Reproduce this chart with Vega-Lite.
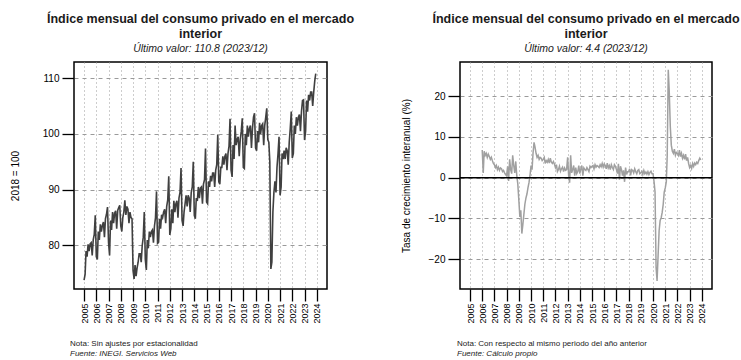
{
  "$schema": "https://vega.github.io/schema/vega-lite/v6.json",
  "background": "white",
  "padding": {"left": 9, "top": 12, "right": 4, "bottom": 0},
  "config": {
    "font": "Liberation Sans",
    "view": {"stroke": "black", "strokeWidth": 1.5},
    "concat": {"spacing": 45},
    "axis": {"domain": false, "tickColor": "black", "tickWidth": 1.3, "tickSize": 12, "labelColor": "black", "titleColor": "black", "labelFont": "Liberation Sans", "titleFont": "Liberation Sans", "titleFontWeight": "normal", "gridColor": "#9a9a9a", "gridWidth": 1, "labelFontSize": 10, "titleFontSize": 10, "labelOverlap": false}
  },
  "datasets": {
    "idx": [
      {"d":"2005-01-01","v":73.8},{"d":"2005-02-01","v":74.8},{"d":"2005-03-01","v":79.0},{"d":"2005-04-01","v":78.0},{"d":"2005-05-01","v":80.2},{"d":"2005-06-01","v":79.0},{"d":"2005-07-01","v":80.3},{"d":"2005-08-01","v":80.5},{"d":"2005-09-01","v":78.2},{"d":"2005-10-01","v":81.0},{"d":"2005-11-01","v":82.0},{"d":"2005-12-01","v":85.4},
      {"d":"2006-01-01","v":78.0},{"d":"2006-02-01","v":77.5},{"d":"2006-03-01","v":82.5},{"d":"2006-04-01","v":81.0},{"d":"2006-05-01","v":83.8},{"d":"2006-06-01","v":82.5},{"d":"2006-07-01","v":83.6},{"d":"2006-08-01","v":84.2},{"d":"2006-09-01","v":81.5},{"d":"2006-10-01","v":84.8},{"d":"2006-11-01","v":85.6},{"d":"2006-12-01","v":86.9},
      {"d":"2007-01-01","v":80.5},{"d":"2007-02-01","v":78.2},{"d":"2007-03-01","v":84.5},{"d":"2007-04-01","v":82.8},{"d":"2007-05-01","v":86.0},{"d":"2007-06-01","v":84.0},{"d":"2007-07-01","v":85.8},{"d":"2007-08-01","v":86.2},{"d":"2007-09-01","v":83.0},{"d":"2007-10-01","v":86.3},{"d":"2007-11-01","v":86.8},{"d":"2007-12-01","v":87.2},
      {"d":"2008-01-01","v":83.5},{"d":"2008-02-01","v":82.5},{"d":"2008-03-01","v":85.0},{"d":"2008-04-01","v":86.0},{"d":"2008-05-01","v":88.1},{"d":"2008-06-01","v":85.5},{"d":"2008-07-01","v":87.0},{"d":"2008-08-01","v":86.5},{"d":"2008-09-01","v":84.0},{"d":"2008-10-01","v":86.0},{"d":"2008-11-01","v":85.0},{"d":"2008-12-01","v":84.8},
      {"d":"2009-01-01","v":75.5},{"d":"2009-02-01","v":74.0},{"d":"2009-03-01","v":76.5},{"d":"2009-04-01","v":74.5},{"d":"2009-05-01","v":76.0},{"d":"2009-06-01","v":77.0},{"d":"2009-07-01","v":78.5},{"d":"2009-08-01","v":78.5},{"d":"2009-09-01","v":77.0},{"d":"2009-10-01","v":80.0},{"d":"2009-11-01","v":81.5},{"d":"2009-12-01","v":86.0},
      {"d":"2010-01-01","v":77.5},{"d":"2010-02-01","v":75.6},{"d":"2010-03-01","v":81.0},{"d":"2010-04-01","v":79.5},{"d":"2010-05-01","v":82.5},{"d":"2010-06-01","v":81.5},{"d":"2010-07-01","v":82.5},{"d":"2010-08-01","v":82.8},{"d":"2010-09-01","v":80.5},{"d":"2010-10-01","v":83.5},{"d":"2010-11-01","v":85.0},{"d":"2010-12-01","v":89.7},
      {"d":"2011-01-01","v":80.4},{"d":"2011-02-01","v":80.6},{"d":"2011-03-01","v":84.8},{"d":"2011-04-01","v":83.0},{"d":"2011-05-01","v":85.5},{"d":"2011-06-01","v":85.0},{"d":"2011-07-01","v":86.0},{"d":"2011-08-01","v":86.5},{"d":"2011-09-01","v":84.0},{"d":"2011-10-01","v":87.0},{"d":"2011-11-01","v":88.2},{"d":"2011-12-01","v":92.4},
      {"d":"2012-01-01","v":81.9},{"d":"2012-02-01","v":83.0},{"d":"2012-03-01","v":86.5},{"d":"2012-04-01","v":84.0},{"d":"2012-05-01","v":88.0},{"d":"2012-06-01","v":86.0},{"d":"2012-07-01","v":87.5},{"d":"2012-08-01","v":88.0},{"d":"2012-09-01","v":85.0},{"d":"2012-10-01","v":88.5},{"d":"2012-11-01","v":89.5},{"d":"2012-12-01","v":93.9},
      {"d":"2013-01-01","v":84.5},{"d":"2013-02-01","v":83.5},{"d":"2013-03-01","v":86.0},{"d":"2013-04-01","v":87.5},{"d":"2013-05-01","v":89.0},{"d":"2013-06-01","v":87.0},{"d":"2013-07-01","v":89.0},{"d":"2013-08-01","v":88.5},{"d":"2013-09-01","v":86.0},{"d":"2013-10-01","v":89.5},{"d":"2013-11-01","v":90.5},{"d":"2013-12-01","v":95.0},
      {"d":"2014-01-01","v":85.4},{"d":"2014-02-01","v":84.8},{"d":"2014-03-01","v":88.5},{"d":"2014-04-01","v":88.0},{"d":"2014-05-01","v":90.5},{"d":"2014-06-01","v":88.5},{"d":"2014-07-01","v":90.3},{"d":"2014-08-01","v":90.5},{"d":"2014-09-01","v":87.5},{"d":"2014-10-01","v":91.0},{"d":"2014-11-01","v":91.8},{"d":"2014-12-01","v":97.4},
      {"d":"2015-01-01","v":87.8},{"d":"2015-02-01","v":87.5},{"d":"2015-03-01","v":91.5},{"d":"2015-04-01","v":90.5},{"d":"2015-05-01","v":92.5},{"d":"2015-06-01","v":91.5},{"d":"2015-07-01","v":93.0},{"d":"2015-08-01","v":93.0},{"d":"2015-09-01","v":90.5},{"d":"2015-10-01","v":93.5},{"d":"2015-11-01","v":94.5},{"d":"2015-12-01","v":99.9},
      {"d":"2016-01-01","v":91.4},{"d":"2016-02-01","v":91.0},{"d":"2016-03-01","v":94.0},{"d":"2016-04-01","v":94.0},{"d":"2016-05-01","v":96.0},{"d":"2016-06-01","v":94.5},{"d":"2016-07-01","v":96.0},{"d":"2016-08-01","v":96.5},{"d":"2016-09-01","v":93.5},{"d":"2016-10-01","v":96.5},{"d":"2016-11-01","v":97.8},{"d":"2016-12-01","v":102.7},
      {"d":"2017-01-01","v":93.5},{"d":"2017-02-01","v":92.3},{"d":"2017-03-01","v":98.0},{"d":"2017-04-01","v":95.5},{"d":"2017-05-01","v":101.5},{"d":"2017-06-01","v":98.0},{"d":"2017-07-01","v":99.0},{"d":"2017-08-01","v":99.5},{"d":"2017-09-01","v":96.0},{"d":"2017-10-01","v":99.0},{"d":"2017-11-01","v":100.5},{"d":"2017-12-01","v":102.8},
      {"d":"2018-01-01","v":94.0},{"d":"2018-02-01","v":93.8},{"d":"2018-03-01","v":100.0},{"d":"2018-04-01","v":98.0},{"d":"2018-05-01","v":101.5},{"d":"2018-06-01","v":99.5},{"d":"2018-07-01","v":101.0},{"d":"2018-08-01","v":101.5},{"d":"2018-09-01","v":97.5},{"d":"2018-10-01","v":101.0},{"d":"2018-11-01","v":103.0},{"d":"2018-12-01","v":103.7},
      {"d":"2019-01-01","v":97.5},{"d":"2019-02-01","v":97.0},{"d":"2019-03-01","v":100.5},{"d":"2019-04-01","v":98.5},{"d":"2019-05-01","v":102.0},{"d":"2019-06-01","v":100.0},{"d":"2019-07-01","v":101.5},{"d":"2019-08-01","v":101.8},{"d":"2019-09-01","v":98.0},{"d":"2019-10-01","v":101.5},{"d":"2019-11-01","v":103.0},{"d":"2019-12-01","v":104.6},
      {"d":"2020-01-01","v":99.0},{"d":"2020-02-01","v":98.5},{"d":"2020-03-01","v":95.0},{"d":"2020-04-01","v":75.8},{"d":"2020-05-01","v":77.0},{"d":"2020-06-01","v":86.0},{"d":"2020-07-01","v":89.5},{"d":"2020-08-01","v":91.5},{"d":"2020-09-01","v":89.5},{"d":"2020-10-01","v":94.0},{"d":"2020-11-01","v":96.5},{"d":"2020-12-01","v":99.5},
      {"d":"2021-01-01","v":89.0},{"d":"2021-02-01","v":90.5},{"d":"2021-03-01","v":96.5},{"d":"2021-04-01","v":95.5},{"d":"2021-05-01","v":97.0},{"d":"2021-06-01","v":95.5},{"d":"2021-07-01","v":97.5},{"d":"2021-08-01","v":97.0},{"d":"2021-09-01","v":94.5},{"d":"2021-10-01","v":98.5},{"d":"2021-11-01","v":101.0},{"d":"2021-12-01","v":104.0},
      {"d":"2022-01-01","v":95.7},{"d":"2022-02-01","v":96.5},{"d":"2022-03-01","v":101.5},{"d":"2022-04-01","v":100.0},{"d":"2022-05-01","v":103.0},{"d":"2022-06-01","v":101.5},{"d":"2022-07-01","v":103.0},{"d":"2022-08-01","v":103.5},{"d":"2022-09-01","v":100.5},{"d":"2022-10-01","v":104.0},{"d":"2022-11-01","v":106.0},{"d":"2022-12-01","v":106.1},
      {"d":"2023-01-01","v":98.9},{"d":"2023-02-01","v":100.5},{"d":"2023-03-01","v":106.0},{"d":"2023-04-01","v":104.0},{"d":"2023-05-01","v":107.0},{"d":"2023-06-01","v":106.0},{"d":"2023-07-01","v":107.5},{"d":"2023-08-01","v":107.5},{"d":"2023-09-01","v":105.0},{"d":"2023-10-01","v":107.5},{"d":"2023-11-01","v":109.5},{"d":"2023-12-01","v":110.8}
    ],
    "gr": [
      {"d":"2006-01-01","v":6.8},{"d":"2006-02-01","v":1.2},{"d":"2006-03-01","v":6.5},{"d":"2006-04-01","v":5.5},{"d":"2006-05-01","v":6.0},{"d":"2006-06-01","v":5.0},{"d":"2006-07-01","v":5.8},{"d":"2006-08-01","v":5.2},{"d":"2006-09-01","v":4.5},{"d":"2006-10-01","v":5.0},{"d":"2006-11-01","v":4.2},{"d":"2006-12-01","v":3.5},
      {"d":"2007-01-01","v":3.2},{"d":"2007-02-01","v":2.5},{"d":"2007-03-01","v":3.0},{"d":"2007-04-01","v":2.0},{"d":"2007-05-01","v":2.6},{"d":"2007-06-01","v":1.8},{"d":"2007-07-01","v":2.4},{"d":"2007-08-01","v":2.2},{"d":"2007-09-01","v":1.5},{"d":"2007-10-01","v":1.8},{"d":"2007-11-01","v":1.2},{"d":"2007-12-01","v":0.8},
      {"d":"2008-01-01","v":0.5},{"d":"2008-02-01","v":2.8},{"d":"2008-03-01","v":-0.8},{"d":"2008-04-01","v":4.5},{"d":"2008-05-01","v":2.0},{"d":"2008-06-01","v":1.0},{"d":"2008-07-01","v":5.5},{"d":"2008-08-01","v":3.0},{"d":"2008-09-01","v":1.2},{"d":"2008-10-01","v":4.0},{"d":"2008-11-01","v":0.5},{"d":"2008-12-01","v":-1.5},
      {"d":"2009-01-01","v":-5.5},{"d":"2009-02-01","v":-9.6},{"d":"2009-03-01","v":-8.0},{"d":"2009-04-01","v":-13.7},{"d":"2009-05-01","v":-11.5},{"d":"2009-06-01","v":-9.0},{"d":"2009-07-01","v":-6.5},{"d":"2009-08-01","v":-5.0},{"d":"2009-09-01","v":-4.0},{"d":"2009-10-01","v":-2.5},{"d":"2009-11-01","v":-1.2},{"d":"2009-12-01","v":0.5},
      {"d":"2010-01-01","v":3.0},{"d":"2010-02-01","v":2.0},{"d":"2010-03-01","v":5.9},{"d":"2010-04-01","v":8.7},{"d":"2010-05-01","v":7.5},{"d":"2010-06-01","v":6.0},{"d":"2010-07-01","v":5.0},{"d":"2010-08-01","v":5.5},{"d":"2010-09-01","v":4.5},{"d":"2010-10-01","v":5.0},{"d":"2010-11-01","v":4.8},{"d":"2010-12-01","v":4.2},
      {"d":"2011-01-01","v":4.5},{"d":"2011-02-01","v":5.0},{"d":"2011-03-01","v":3.5},{"d":"2011-04-01","v":4.2},{"d":"2011-05-01","v":3.8},{"d":"2011-06-01","v":4.5},{"d":"2011-07-01","v":3.6},{"d":"2011-08-01","v":4.8},{"d":"2011-09-01","v":3.8},{"d":"2011-10-01","v":3.5},{"d":"2011-11-01","v":4.0},{"d":"2011-12-01","v":3.4},
      {"d":"2012-01-01","v":2.5},{"d":"2012-02-01","v":3.2},{"d":"2012-03-01","v":1.5},{"d":"2012-04-01","v":2.0},{"d":"2012-05-01","v":2.8},{"d":"2012-06-01","v":1.6},{"d":"2012-07-01","v":2.2},{"d":"2012-08-01","v":2.6},{"d":"2012-09-01","v":1.5},{"d":"2012-10-01","v":2.4},{"d":"2012-11-01","v":1.8},{"d":"2012-12-01","v":2.0},
      {"d":"2013-01-01","v":5.0},{"d":"2013-02-01","v":0.5},{"d":"2013-03-01","v":-1.2},{"d":"2013-04-01","v":5.5},{"d":"2013-05-01","v":1.2},{"d":"2013-06-01","v":2.0},{"d":"2013-07-01","v":3.0},{"d":"2013-08-01","v":0.5},{"d":"2013-09-01","v":2.5},{"d":"2013-10-01","v":1.0},{"d":"2013-11-01","v":1.5},{"d":"2013-12-01","v":3.0},
      {"d":"2014-01-01","v":1.0},{"d":"2014-02-01","v":2.2},{"d":"2014-03-01","v":3.0},{"d":"2014-04-01","v":0.5},{"d":"2014-05-01","v":2.4},{"d":"2014-06-01","v":2.0},{"d":"2014-07-01","v":1.8},{"d":"2014-08-01","v":2.5},{"d":"2014-09-01","v":2.0},{"d":"2014-10-01","v":1.5},{"d":"2014-11-01","v":2.8},{"d":"2014-12-01","v":2.5},
      {"d":"2015-01-01","v":2.8},{"d":"2015-02-01","v":3.0},{"d":"2015-03-01","v":2.2},{"d":"2015-04-01","v":3.2},{"d":"2015-05-01","v":2.6},{"d":"2015-06-01","v":3.0},{"d":"2015-07-01","v":2.8},{"d":"2015-08-01","v":2.5},{"d":"2015-09-01","v":3.2},{"d":"2015-10-01","v":2.7},{"d":"2015-11-01","v":3.5},{"d":"2015-12-01","v":2.6},
      {"d":"2016-01-01","v":3.4},{"d":"2016-02-01","v":3.0},{"d":"2016-03-01","v":2.2},{"d":"2016-04-01","v":3.6},{"d":"2016-05-01","v":2.4},{"d":"2016-06-01","v":3.0},{"d":"2016-07-01","v":2.0},{"d":"2016-08-01","v":3.2},{"d":"2016-09-01","v":2.5},{"d":"2016-10-01","v":2.0},{"d":"2016-11-01","v":3.2},{"d":"2016-12-01","v":2.8},
      {"d":"2017-01-01","v":2.0},{"d":"2017-02-01","v":1.0},{"d":"2017-03-01","v":3.4},{"d":"2017-04-01","v":-0.5},{"d":"2017-05-01","v":2.8},{"d":"2017-06-01","v":2.0},{"d":"2017-07-01","v":0.5},{"d":"2017-08-01","v":1.8},{"d":"2017-09-01","v":-1.0},{"d":"2017-10-01","v":2.5},{"d":"2017-11-01","v":0.8},{"d":"2017-12-01","v":1.5},
      {"d":"2018-01-01","v":1.5},{"d":"2018-02-01","v":2.2},{"d":"2018-03-01","v":0.6},{"d":"2018-04-01","v":2.0},{"d":"2018-05-01","v":1.8},{"d":"2018-06-01","v":1.2},{"d":"2018-07-01","v":2.2},{"d":"2018-08-01","v":1.5},{"d":"2018-09-01","v":1.0},{"d":"2018-10-01","v":1.8},{"d":"2018-11-01","v":2.0},{"d":"2018-12-01","v":1.0},
      {"d":"2019-01-01","v":1.2},{"d":"2019-02-01","v":1.6},{"d":"2019-03-01","v":0.8},{"d":"2019-04-01","v":1.8},{"d":"2019-05-01","v":1.0},{"d":"2019-06-01","v":1.4},{"d":"2019-07-01","v":0.9},{"d":"2019-08-01","v":1.5},{"d":"2019-09-01","v":0.8},{"d":"2019-10-01","v":1.3},{"d":"2019-11-01","v":1.6},{"d":"2019-12-01","v":1.0},
      {"d":"2020-01-01","v":1.0},{"d":"2020-02-01","v":-1.0},{"d":"2020-03-01","v":-3.5},{"d":"2020-04-01","v":-22.0},{"d":"2020-05-01","v":-25.3},{"d":"2020-06-01","v":-19.0},{"d":"2020-07-01","v":-13.0},{"d":"2020-08-01","v":-10.5},{"d":"2020-09-01","v":-9.8},{"d":"2020-10-01","v":-8.5},{"d":"2020-11-01","v":-6.5},{"d":"2020-12-01","v":-3.5},
      {"d":"2021-01-01","v":-2.5},{"d":"2021-02-01","v":-1.0},{"d":"2021-03-01","v":5.5},{"d":"2021-04-01","v":26.5},{"d":"2021-05-01","v":21.0},{"d":"2021-06-01","v":12.5},{"d":"2021-07-01","v":8.0},{"d":"2021-08-01","v":6.5},{"d":"2021-09-01","v":6.0},{"d":"2021-10-01","v":7.0},{"d":"2021-11-01","v":5.5},{"d":"2021-12-01","v":6.2},
      {"d":"2022-01-01","v":6.0},{"d":"2022-02-01","v":5.5},{"d":"2022-03-01","v":6.8},{"d":"2022-04-01","v":5.2},{"d":"2022-05-01","v":6.0},{"d":"2022-06-01","v":4.8},{"d":"2022-07-01","v":5.5},{"d":"2022-08-01","v":4.5},{"d":"2022-09-01","v":5.8},{"d":"2022-10-01","v":4.2},{"d":"2022-11-01","v":5.0},{"d":"2022-12-01","v":3.5},
      {"d":"2023-01-01","v":2.5},{"d":"2023-02-01","v":3.0},{"d":"2023-03-01","v":2.3},{"d":"2023-04-01","v":3.5},{"d":"2023-05-01","v":2.8},{"d":"2023-06-01","v":3.6},{"d":"2023-07-01","v":3.2},{"d":"2023-08-01","v":3.8},{"d":"2023-09-01","v":3.5},{"d":"2023-10-01","v":4.2},{"d":"2023-11-01","v":4.8},{"d":"2023-12-01","v":4.4}
    ]
  },
  "hconcat": [
    {
      "title": {"text": "Nota: Sin ajustes por estacionalidad", "subtitle": "Fuente: INEGI. Servicios Web", "orient": "bottom", "anchor": "start", "frame": "group", "font": "Liberation Sans", "fontSize": 8, "fontWeight": "normal", "color": "#222222", "subtitleFont": "Liberation Sans", "subtitleFontSize": 8, "subtitleFontStyle": "italic", "subtitleColor": "#222222", "subtitlePadding": 2, "dx": -4, "offset": 16},
      "vconcat": [
        {
          "title": {"text": ["Índice mensual del consumo privado en el mercado", "interior"], "subtitle": "Último valor: 110.8 (2023/12)", "anchor": "middle", "frame": "group", "font": "Liberation Sans", "fontSize": 12.5, "fontWeight": "bold", "color": "#1a1a1a", "lineHeight": 15, "subtitleFont": "Liberation Sans", "subtitleFontSize": 10.5, "subtitleFontStyle": "italic", "subtitleColor": "#222222", "subtitlePadding": 3, "offset": 8},
          "width": 253,
          "height": 227,
          "data": {"name": "idx"},
          "mark": {"type": "line", "color": "#404040", "strokeWidth": 1.6},
          "encoding": {
            "x": {"field": "d", "type": "temporal", "scale": {"type": "utc", "domain": [{"year": 2004, "month": 3, "date": 7, "utc": true}, {"year": 2024, "month": 10, "date": 31, "utc": true}]}, "axis": {"title": null, "format": "%Y", "formatType": "utc", "values": [{"year": 2005, "month": 1, "date": 1, "utc": true}, {"year": 2006, "month": 1, "date": 1, "utc": true}, {"year": 2007, "month": 1, "date": 1, "utc": true}, {"year": 2008, "month": 1, "date": 1, "utc": true}, {"year": 2009, "month": 1, "date": 1, "utc": true}, {"year": 2010, "month": 1, "date": 1, "utc": true}, {"year": 2011, "month": 1, "date": 1, "utc": true}, {"year": 2012, "month": 1, "date": 1, "utc": true}, {"year": 2013, "month": 1, "date": 1, "utc": true}, {"year": 2014, "month": 1, "date": 1, "utc": true}, {"year": 2015, "month": 1, "date": 1, "utc": true}, {"year": 2016, "month": 1, "date": 1, "utc": true}, {"year": 2017, "month": 1, "date": 1, "utc": true}, {"year": 2018, "month": 1, "date": 1, "utc": true}, {"year": 2019, "month": 1, "date": 1, "utc": true}, {"year": 2020, "month": 1, "date": 1, "utc": true}, {"year": 2021, "month": 1, "date": 1, "utc": true}, {"year": 2022, "month": 1, "date": 1, "utc": true}, {"year": 2023, "month": 1, "date": 1, "utc": true}, {"year": 2024, "month": 1, "date": 1, "utc": true}], "labelAngle": 270, "labelFontSize": 9, "labelPadding": 2, "grid": true, "gridDash": [1, 3]}},
            "y": {"field": "v", "type": "quantitative", "scale": {"domain": [72.2, 112.9], "nice": false, "zero": false}, "axis": {"title": "2018 = 100", "values": [80, 90, 100, 110], "labelPadding": 3, "titlePadding": 22, "grid": true, "gridDash": [4, 4]}}
          }
        }
      ]
    },
    {
      "title": {"text": "Nota: Con respecto al mismo periodo del año anterior", "subtitle": "Fuente: Cálculo propio", "orient": "bottom", "anchor": "start", "frame": "group", "font": "Liberation Sans", "fontSize": 8, "fontWeight": "normal", "color": "#222222", "subtitleFont": "Liberation Sans", "subtitleFontSize": 8, "subtitleFontStyle": "italic", "subtitleColor": "#222222", "subtitlePadding": 2, "dx": -3, "offset": 16},
      "vconcat": [
        {
          "title": {"text": ["Índice mensual del consumo privado en el mercado", "interior"], "subtitle": "Último valor: 4.4 (2023/12)", "anchor": "middle", "frame": "group", "font": "Liberation Sans", "fontSize": 12.5, "fontWeight": "bold", "color": "#1a1a1a", "lineHeight": 15, "subtitleFont": "Liberation Sans", "subtitleFontSize": 10.5, "subtitleFontStyle": "italic", "subtitleColor": "#222222", "subtitlePadding": 3, "offset": 8},
          "width": 252,
          "height": 227,
          "layer": [
            {
              "data": {"name": "gr"},
              "mark": {"type": "line", "color": "#a0a0a0", "strokeWidth": 1.5},
              "encoding": {
                "x": {"field": "d", "type": "temporal", "scale": {"type": "utc", "domain": [{"year": 2004, "month": 3, "date": 7, "utc": true}, {"year": 2024, "month": 10, "date": 31, "utc": true}]}, "axis": {"title": null, "format": "%Y", "formatType": "utc", "values": [{"year": 2005, "month": 1, "date": 1, "utc": true}, {"year": 2006, "month": 1, "date": 1, "utc": true}, {"year": 2007, "month": 1, "date": 1, "utc": true}, {"year": 2008, "month": 1, "date": 1, "utc": true}, {"year": 2009, "month": 1, "date": 1, "utc": true}, {"year": 2010, "month": 1, "date": 1, "utc": true}, {"year": 2011, "month": 1, "date": 1, "utc": true}, {"year": 2012, "month": 1, "date": 1, "utc": true}, {"year": 2013, "month": 1, "date": 1, "utc": true}, {"year": 2014, "month": 1, "date": 1, "utc": true}, {"year": 2015, "month": 1, "date": 1, "utc": true}, {"year": 2016, "month": 1, "date": 1, "utc": true}, {"year": 2017, "month": 1, "date": 1, "utc": true}, {"year": 2018, "month": 1, "date": 1, "utc": true}, {"year": 2019, "month": 1, "date": 1, "utc": true}, {"year": 2020, "month": 1, "date": 1, "utc": true}, {"year": 2021, "month": 1, "date": 1, "utc": true}, {"year": 2022, "month": 1, "date": 1, "utc": true}, {"year": 2023, "month": 1, "date": 1, "utc": true}, {"year": 2024, "month": 1, "date": 1, "utc": true}], "labelAngle": 270, "labelFontSize": 9, "labelPadding": 2, "grid": true, "gridDash": [1, 3]}},
                "y": {"field": "v", "type": "quantitative", "scale": {"domain": [-27.3, 28.4], "nice": false, "zero": false}, "axis": {"title": "Tasa de crecimiento interanual (%)", "values": [-20, -10, 0, 10, 20], "labelPadding": 3, "titlePadding": 17, "grid": true, "gridDash": [4, 4]}}
              }
            },
            {
              "data": {"values": [{"z": 0}]},
              "mark": {"type": "rule", "color": "black", "strokeWidth": 1.5},
              "encoding": {"y": {"field": "z", "type": "quantitative"}}
            }
          ]
        }
      ]
    }
  ]
}
